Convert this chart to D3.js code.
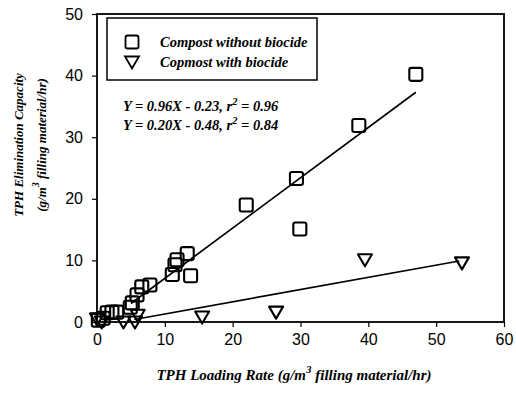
<!DOCTYPE html>
<html>
<head>
<meta charset="utf-8">
<script src="https://d3js.org/d3.v7.min.js"></script>
<style>
  body { margin: 0; background: #fff; }
  svg { display: block; }
</style>
</head>
<body>
<svg id="chart" width="516" height="399"></svg>
<script>
// Data
// -------------------------------------
const withoutX = [0.2, 0.9, 1.5, 2.2, 2.9, 4.9, 5.2, 5.9, 6.6, 7.8, 11.1, 11.5, 11.8, 13.3, 13.8, 22.0, 29.4, 29.9, 38.6, 47.0];
const withoutY = [0.3, 0.6, 1.5, 1.6, 1.6, 2.4, 3.1, 4.4, 5.7, 6.0, 7.7, 9.3, 10.1, 11.1, 7.5, 19.0, 23.3, 15.1, 31.9, 40.2];

const withX = [0.0, 0.7, 3.9, 5.6, 6.0, 15.5, 26.4, 39.5, 53.8];
const withY = [0.5, 0.0, 0.0, 0.0, 1.1, 0.8, 1.6, 10.1, 9.6];

// fitted lines as drawn in the figure: [x0, y0, x1, y1]
const fitWithout = [5.0, 3.0, 47.0, 37.3];
const fitWith = [5.5, 0.4, 53.4, 9.9];

const xTicks = [0, 10, 20, 30, 40, 50, 60];
const yTicks = [0, 10, 20, 30, 40, 50];

const legendLabels = ["Compost without biocide", "Copmost with biocide"];
const equations = [
    ["Y = 0.96X - 0.23, r", "2", " = 0.96"],
    ["Y = 0.20X - 0.48, r", "2", " = 0.84"]
];

// Layout
// ------
const width = 516, height = 399;
const margin = { top: 14, right: 12, bottom: 77, left: 97 };
const svg = d3.select("#chart");
const serif = "'Liberation Serif', 'Times New Roman', serif";
const sans = "'Liberation Sans', Arial, sans-serif";

const x = d3.scaleLinear().domain([0, 60]).range([margin.left, width - margin.right]);
const y = d3.scaleLinear().domain([0, 50]).range([height - margin.bottom, margin.top]);

// Axes
const xAxis = svg.append("g")
    .attr("transform", `translate(0,${y(0)})`)
    .call(d3.axisBottom(x).tickValues(xTicks).tickSize(5).tickPadding(7));
const yAxis = svg.append("g")
    .attr("transform", `translate(${x(0)},0)`)
    .call(d3.axisLeft(y).tickValues(yTicks).tickSize(5).tickPadding(9));

[xAxis, yAxis].forEach(g => {
    g.select(".domain").remove();
    g.selectAll("line").attr("stroke", "#000").attr("stroke-width", 1.2);
    g.selectAll("text")
        .attr("fill", "#000")
        .style("font-family", sans)
        .style("font-size", "16px");
});

// Frame
svg.append("rect")
    .attr("x", x(0)).attr("y", y(50))
    .attr("width", x(60) - x(0)).attr("height", y(0) - y(50))
    .attr("fill", "none").attr("stroke", "#000").attr("stroke-width", 1.8);

// Fit lines
[fitWithout, fitWith].forEach(f => {
    svg.append("line")
        .attr("x1", x(f[0])).attr("y1", y(f[1]))
        .attr("x2", x(f[2])).attr("y2", y(f[3]))
        .attr("stroke", "#000").attr("stroke-width", 1.7);
});

// Markers
const squarePath = "M-4.5,-6.5H4.5Q6.5,-6.5 6.5,-4.5V4.5Q6.5,6.5 4.5,6.5H-4.5Q-6.5,6.5 -6.5,4.5V-4.5Q-6.5,-6.5 -4.5,-6.5Z";
const trianglePath = "M-7,-5.5L7,-5.5L0,6.5Z";

svg.append("g").selectAll("path")
    .data(d3.zip(withoutX, withoutY))
    .join("path")
    .attr("d", squarePath)
    .attr("transform", d => `translate(${x(d[0])},${y(d[1])})`)
    .attr("fill", "none").attr("stroke", "#000").attr("stroke-width", 2.1)
    .attr("stroke-linejoin", "round");

svg.append("g").selectAll("path")
    .data(d3.zip(withX, withY))
    .join("path")
    .attr("d", trianglePath)
    .attr("transform", d => `translate(${x(d[0])},${y(d[1])})`)
    .attr("fill", "none").attr("stroke", "#000").attr("stroke-width", 2.1)
    .attr("stroke-linejoin", "round");

// Legend
const legend = svg.append("g");
legend.append("rect")
    .attr("x", 107).attr("y", 18).attr("width", 210).attr("height", 62)
    .attr("fill", "#fff").attr("stroke", "#000").attr("stroke-width", 1.5);
[squarePath, trianglePath].forEach((p, i) => {
    legend.append("path")
        .attr("d", p)
        .attr("transform", `translate(132,${42 + i * 20})`)
        .attr("fill", "none").attr("stroke", "#000").attr("stroke-width", 1.8);
    legend.append("text")
        .attr("x", 160).attr("y", 47 + i * 20)
        .style("font-family", serif).style("font-size", "14.5px")
        .style("font-weight", "bold").style("font-style", "italic")
        .text(legendLabels[i]);
});

// Equations
equations.forEach((eq, i) => {
    const t = svg.append("text")
        .attr("x", 123).attr("y", 111 + i * 19)
        .style("font-family", serif).style("font-size", "14.5px")
        .style("font-weight", "bold").style("font-style", "italic");
    t.append("tspan").text(eq[0]);
    t.append("tspan").attr("dy", -6).style("font-size", "10.5px").text(eq[1]);
    t.append("tspan").attr("dy", 6).text(eq[2]);
});

// Axis titles
const xt = svg.append("text")
    .attr("x", 294).attr("y", 380)
    .attr("text-anchor", "middle")
    .style("font-family", serif).style("font-size", "15px")
    .style("font-weight", "bold").style("font-style", "italic");
xt.append("tspan").text("TPH Loading Rate (g/m");
xt.append("tspan").attr("dy", -7).style("font-size", "11px").text("3");
xt.append("tspan").attr("dy", 7).text(" filling material/hr)");

const yt = svg.append("text")
    .attr("transform", "translate(23,145) rotate(-90)")
    .attr("text-anchor", "middle")
    .style("font-family", serif).style("font-size", "13px")
    .style("font-weight", "bold").style("font-style", "italic");
yt.append("tspan").attr("x", 0).attr("y", 0).text("TPH Elimination Capacity");
const yt2 = svg.append("text")
    .attr("transform", "translate(46,145) rotate(-90)")
    .attr("text-anchor", "middle")
    .style("font-family", serif).style("font-size", "13px")
    .style("font-weight", "bold").style("font-style", "italic");
yt2.append("tspan").text("(g/m");
yt2.append("tspan").attr("dy", -7).style("font-size", "10px").text("3");
yt2.append("tspan").attr("dy", 7).text(" filling material/hr)");
</script>
</body>
</html>
